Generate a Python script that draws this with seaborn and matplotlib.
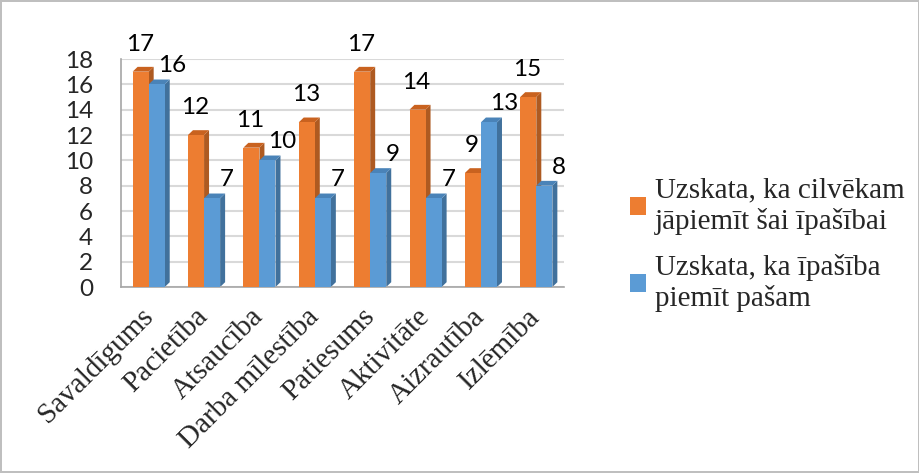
import matplotlib
matplotlib.use("Agg")
import matplotlib.pyplot as plt
from matplotlib.patches import Polygon, Patch
from matplotlib.transforms import ScaledTranslation
import seaborn as sns
import pandas as pd
import numpy as np

categories = ["Savaldīgums", "Pacietība", "Atsaucība", "Darba mīlestība",
              "Patiesums", "Aktivitāte", "Aizrautība", "Izlēmība"]
series_names = ["Uzskata, ka cilvēkam\njāpiemīt šai īpašībai",
                "Uzskata, ka īpašība\npiemīt pašam"]
values_should = [17, 12, 11, 13, 17, 14, 9, 15]
values_self = [16, 7, 10, 7, 9, 7, 13, 8]
y_ticks = [0, 2, 4, 6, 8, 10, 12, 14, 16, 18]

colors = ["#ED7D31", "#5B9BD5"]
side_colors = ["#AE5A21", "#41719C"]
top_colors = ["#C9621F", "#4A83B8"]

df = pd.DataFrame({
    "cat": categories * 2,
    "val": values_should + values_self,
    "series": [series_names[0]] * len(categories) + [series_names[1]] * len(categories),
})

sns.set_style("white")
fig = plt.figure(figsize=(9.2, 4.73), dpi=100)
fig.patch.set_edgecolor("#BFBFBF")
fig.patch.set_linewidth(1.5)
ax = fig.add_axes([121 / 920, (473 - 287) / 473, (564 - 121) / 920, (287 - 59) / 473])

sns.barplot(data=df, x="cat", y="val", hue="series", palette=colors,
            width=0.58, ax=ax, legend=False, zorder=3, linewidth=0, saturation=1)

ax.set_ylim(0, 18)
ax.set_xlim(-0.5, len(categories) - 0.5)
ax.set_yticks(y_ticks)
ax.yaxis.grid(True, color="#D9D9D9", linewidth=1.5, zorder=0)
ax.set_axisbelow(True)

# pseudo-3D depth derived from bar geometry
dx, dy = 0.09, 0.38
for i, cont in enumerate(ax.containers):
    for rect in cont:
        x0, w, h = rect.get_x(), rect.get_width(), rect.get_height()
        x1 = x0 + w
        side = Polygon([(x1, 0), (x1 + dx, dy), (x1 + dx, h + dy), (x1, h)],
                       closed=True, facecolor=side_colors[i], edgecolor="none", zorder=2)
        top = Polygon([(x0, h), (x0 + dx, h + dy), (x1 + dx, h + dy), (x1, h)],
                      closed=True, facecolor=top_colors[i], edgecolor="none", zorder=2)
        ax.add_patch(side)
        ax.add_patch(top)

# data labels
offsets = [(-1, 17), (15, 8)]
for i, cont in enumerate(ax.containers):
    for rect in cont:
        h = rect.get_height()
        ax.annotate(f"{int(h)}", (rect.get_x() + rect.get_width() / 2, h),
                    xytext=offsets[i], textcoords="offset pixels",
                    ha="center", va="bottom", fontsize=17.5, family="Lato",
                    color="#000000", zorder=5, annotation_clip=False)

for s in ["top", "right"]:
    ax.spines[s].set_visible(False)
for s in ["left", "bottom"]:
    ax.spines[s].set_color("#A6A6A6")
    ax.spines[s].set_linewidth(1.2)

ax.set_xlabel("")
ax.set_ylabel("")
ax.tick_params(axis="y", length=0, pad=20, labelsize=17.5)

ax.set_xticks(np.arange(len(categories)))
ax.set_xticklabels(categories)
ax.tick_params(axis="x", which="major", length=0, pad=12)
ax.set_xticks(np.arange(len(categories) + 1) - 0.5, minor=True)
ax.tick_params(axis="x", which="minor", length=6, color="#A6A6A6", width=1.2, direction="out")

for lab in ax.get_yticklabels():
    lab.set_fontfamily("Lato")
shift = ScaledTranslation(-0.09, 0, fig.dpi_scale_trans)
for lab in ax.get_xticklabels():
    lab.set_fontfamily("Liberation Serif")
    lab.set_fontsize(21)
    lab.set_rotation(45)
    lab.set_ha("right")
    lab.set_va("top")
    lab.set_rotation_mode("anchor")
    lab.set_transform(lab.get_transform() + shift)

handles = [Patch(facecolor=c, edgecolor="none") for c in colors]
fig.legend(handles, series_names, loc="center left", bbox_to_anchor=(604 / 920, 1 - 245 / 473),
           frameon=False, prop={"family": "Liberation Serif", "size": 21},
           handlelength=0.55, handleheight=0.55, handletextpad=0.3, labelspacing=0.65)

fig.savefig("out.png", dpi=100)
